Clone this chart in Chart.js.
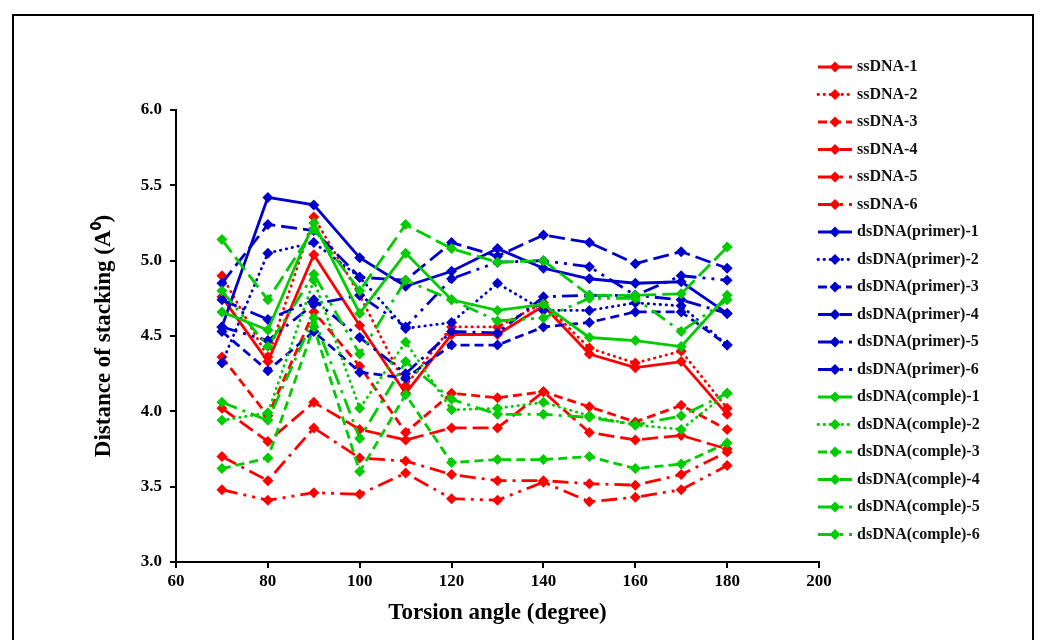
<!DOCTYPE html>
<html><head><meta charset="utf-8">
<script src="https://cdn.jsdelivr.net/npm/chart.js@4.4.1/dist/chart.umd.min.js"></script>
<style>html,body{margin:0;padding:0;background:#fff;}canvas{display:block}</style>
</head><body><canvas id="c" width="1046" height="640"></canvas>
<script>
const torsionAngles = [70,80,90,100,110,120,130,140,150,160,170,180];
const xTickValues = [60,80,100,120,140,160,180,200];
const yTickValues = [3.0,3.5,4.0,4.5,5.0,5.5,6.0];

const ssDNA1 = [4.76,4.33,5.04,4.57,4.12,4.51,4.51,4.70,4.38,4.29,4.33,3.98];
const ssDNA2 = [4.90,4.36,5.29,4.77,4.17,4.56,4.56,4.72,4.42,4.32,4.40,4.02];
const ssDNA3 = [4.36,3.97,4.66,4.30,3.86,4.12,4.09,4.13,4.03,3.93,4.04,3.88];
const ssDNA4 = [4.02,3.80,4.06,3.88,3.81,3.89,3.89,4.13,3.86,3.81,3.84,3.75];
const ssDNA5 = [3.70,3.54,3.89,3.69,3.67,3.58,3.54,3.54,3.52,3.51,3.58,3.73];
const ssDNA6 = [3.48,3.41,3.46,3.45,3.59,3.42,3.41,3.53,3.40,3.43,3.48,3.64];

const primer1 = [4.56,5.42,5.37,5.02,4.83,4.93,5.08,4.95,4.88,4.85,4.86,4.65];
const primer2 = [4.32,5.05,5.12,4.89,4.55,4.59,4.85,4.67,4.67,4.72,4.70,4.44];
const primer3 = [4.53,4.27,4.53,4.26,4.22,4.44,4.44,4.56,4.59,4.66,4.66,4.44];
const primer4 = [4.85,5.24,5.20,4.89,4.87,5.12,5.03,5.17,5.12,4.98,5.06,4.95];
const primer5 = [4.74,4.61,4.74,4.49,4.25,4.53,4.52,4.76,4.77,4.77,4.74,4.65];
const primer6 = [4.56,4.47,4.71,4.77,4.56,4.88,4.99,5.00,4.96,4.77,4.90,4.87];

const comple1 = [4.66,4.54,5.25,4.65,5.05,4.74,4.67,4.71,4.49,4.47,4.43,4.77];
const comple2 = [3.94,3.99,4.87,4.02,4.46,4.01,4.02,4.06,3.97,3.91,3.88,4.12];
const comple3 = [3.62,3.69,4.56,3.60,4.11,3.66,3.68,3.68,3.70,3.62,3.65,3.79];
const comple4 = [5.14,4.74,5.21,4.80,5.24,5.08,4.99,5.00,4.77,4.77,4.78,5.09];
const comple5 = [4.06,3.94,4.62,3.82,4.33,4.08,3.98,3.98,3.96,3.91,3.97,4.12];
const comple6 = [4.80,4.43,4.91,4.38,4.87,4.74,4.60,4.62,4.75,4.75,4.53,4.74];

const seriesNames = ['ssDNA-1','ssDNA-2','ssDNA-3','ssDNA-4','ssDNA-5','ssDNA-6',
  'dsDNA(primer)-1','dsDNA(primer)-2','dsDNA(primer)-3','dsDNA(primer)-4','dsDNA(primer)-5','dsDNA(primer)-6',
  'dsDNA(comple)-1','dsDNA(comple)-2','dsDNA(comple)-3','dsDNA(comple)-4','dsDNA(comple)-5','dsDNA(comple)-6'];
const seriesValues = [ssDNA1,ssDNA2,ssDNA3,ssDNA4,ssDNA5,ssDNA6,
  primer1,primer2,primer3,primer4,primer5,primer6,
  comple1,comple2,comple3,comple4,comple5,comple6];

const groupColors = ['#ff0000','#0000cc','#00cc00'];
const dashStyles = [[],[0.5,5.5],[9,5],[16,6],[16,6,3,6],[16,6,3,6,3,6]];
const capStyles = ['butt','round','butt','butt','butt','butt'];

const datasets = seriesValues.map((vals,i)=>{
  const col = groupColors[Math.floor(i/6)];
  return {
    label: seriesNames[i],
    data: vals.map((v,k)=>({x:torsionAngles[k], y:v})),
    borderColor: col, backgroundColor: col,
    borderWidth: 2.8, borderDash: dashStyles[i%6], borderCapStyle: capStyles[i%6],
    pointStyle: 'rectRot', pointRadius: 5.5, pointBorderWidth: 0,
    pointBackgroundColor: col, tension: 0, order: -i
  };
});

const serif = "'Liberation Serif','Times New Roman',serif";

const framePlugin = {
  id:'frame',
  beforeDraw(chart){const c=chart.ctx;c.save();c.fillStyle='#fff';c.fillRect(0,0,chart.width,chart.height);c.restore();},
  afterDraw(chart){
    const c=chart.ctx; c.save();
    c.strokeStyle='#000'; c.lineWidth=2; c.setLineDash([]);
    c.strokeRect(13,15,1020,640);
    // legend
    c.font = "bold 16px " + serif; c.textBaseline='middle'; c.textAlign='left';
    chart.data.datasets.forEach((ds,i)=>{
      const y = 67 + i*27.5;
      c.strokeStyle = ds.borderColor; c.lineWidth = 2.8; c.setLineDash(ds.borderDash); c.lineCap = ds.borderCapStyle;
      c.beginPath(); c.moveTo(818,y); c.lineTo(852,y); c.stroke();
      c.setLineDash([]); c.lineCap='butt';
      c.fillStyle = ds.borderColor;
      c.beginPath(); c.moveTo(835,y-5.5); c.lineTo(840.5,y); c.lineTo(835,y+5.5); c.lineTo(829.5,y); c.closePath(); c.fill();
      c.fillStyle = '#111';
      c.fillText(ds.label, 857, y);
    });
    c.restore();
  }
};

new Chart(document.getElementById('c'), {
  type:'line',
  data:{datasets},
  options:{
    responsive:false, animation:false, devicePixelRatio:1,
    layout:{padding:{left:0,right:227,top:110,bottom:0}},
    plugins:{legend:{display:false}, tooltip:{enabled:false}},
    scales:{
      x:{type:'linear', min:60, max:200,
        afterBuildTicks(s){s.ticks = xTickValues.map(v=>({value:v}));},
        ticks:{color:'#000', font:{family:serif,size:17,weight:'bold'}, padding:3, maxRotation:0},
        grid:{drawOnChartArea:false, drawTicks:true, tickLength:6, color:'#000', lineWidth:2},
        border:{color:'#000', width:2},
        title:{display:true, text:'Torsion angle (degree)', color:'#000', font:{family:serif,size:23,weight:'bold'}, padding:{top:0,bottom:13}},
        afterFit(s){s.height=78;}
      },
      y:{min:3, max:6,
        afterBuildTicks(s){s.ticks = yTickValues.map(v=>({value:v}));},
        ticks:{color:'#000', font:{family:serif,size:17,weight:'bold'}, padding:8, callback:v=>Number(v).toFixed(1)},
        grid:{drawOnChartArea:false, drawTicks:true, tickLength:6, color:'#000', lineWidth:2},
        border:{color:'#000', width:2},
        title:{display:true, text:'Distance of stacking (A\u2070)', color:'#000', font:{family:serif,size:23,weight:'bold'}, padding:{top:90,bottom:0}},
        afterFit(s){s.width=176;}
      }
    }
  },
  plugins:[framePlugin]
});
</script></body></html>
